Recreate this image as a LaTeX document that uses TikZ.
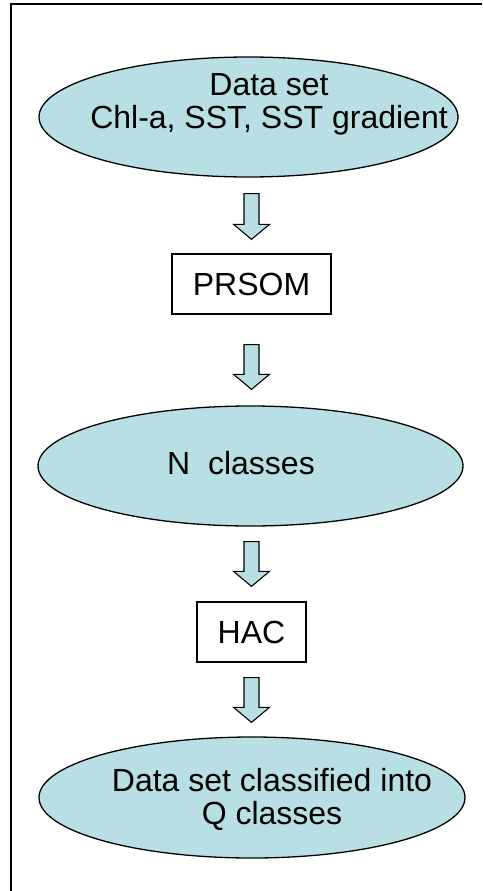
\documentclass[tikz,border=0pt]{standalone}
\usepackage{fontspec}
\setmainfont{Liberation Sans}
\usepackage{tikz}
\usetikzlibrary{calc,shapes.geometric}
\definecolor{chartfill}{RGB}{184,224,228}
\newcommand{\chartfont}{\fontsize{32}{33}\selectfont}
\tikzset{
  every picture/.append style={line join=miter},
  chart frame/.style={line width=1.6pt},
  chart ellipse/.style={ellipse,draw=black,fill=chartfill,line width=1.3pt,inner sep=0pt},
  chart box/.style={rectangle,draw=black,line width=1.3pt,minimum height=60pt,font=\chartfont},
  chart note/.style={font=\chartfont,align=center},
  chart arrow/.style={draw=black,fill=chartfill,line width=1.1pt,
    to path={-- ($(\tikztostart)+(-7.5,0)$) -- ($(\tikztotarget)+(-7.5,-15)$)
      -- ($(\tikztotarget)+(-18,-15)$) -- (\tikztotarget)
      -- ($(\tikztotarget)+(18,-15)$) -- ($(\tikztotarget)+(7.5,-15)$)
      -- ($(\tikztostart)+(7.5,0)$) -- cycle}}
}
\begin{document}
\begin{tikzpicture}[x=1pt,y=-1pt]
\useasboundingbox (0,0) rectangle (482,891);
\draw[chart frame] (482,4) -- (11,4) -- (11,891);
\node[chart ellipse,minimum width=419pt,minimum height=120pt,
  label={[chart note,xshift=20.5pt,yshift=13pt]center:Data set\\Chl-a, SST, SST gradient}]
  (dataset) at (248.5,117) {};
\node[chart box,minimum width=159pt] (prsom) at (251.5,284) {PRSOM};
\node[chart ellipse,minimum width=425pt,minimum height=120pt,
  label={[chart note,xshift=-9.5pt,yshift=2.5pt]center:N\ \ classes}]
  (nclasses) at (250.5,466) {};
\node[chart box,minimum width=109pt] (hac) at (251.5,632) {HAC};
\node[chart ellipse,minimum width=426pt,minimum height=121pt,
  label={[chart note,xshift=20pt,yshift=-2pt]center:Data set classified into\\Q classes}]
  (qclasses) at (252,797.5) {};
% arrow ends
\path (dataset.south -| prsom.north) ++(0,16) coordinate (a1top);
\path (prsom.north) ++(0,-14) coordinate (a1tip);
\path (prsom.south) ++(0,30) coordinate (a2top);
\path (nclasses.north -| prsom.north) ++(0,-16) coordinate (a2tip);
\path (nclasses.south -| hac.north) ++(0,15) coordinate (a3top);
\path (hac.north) ++(0,-15) coordinate (a3tip);
\path (hac.south) ++(0,15) coordinate (a4top);
\path (qclasses.north -| hac.north) ++(0,-14) coordinate (a4tip);
\draw[chart arrow] (a1top) to (a1tip);
\draw[chart arrow] (a2top) to (a2tip);
\draw[chart arrow] (a3top) to (a3tip);
\draw[chart arrow] (a4top) to (a4tip);
\end{tikzpicture}
\end{document}
